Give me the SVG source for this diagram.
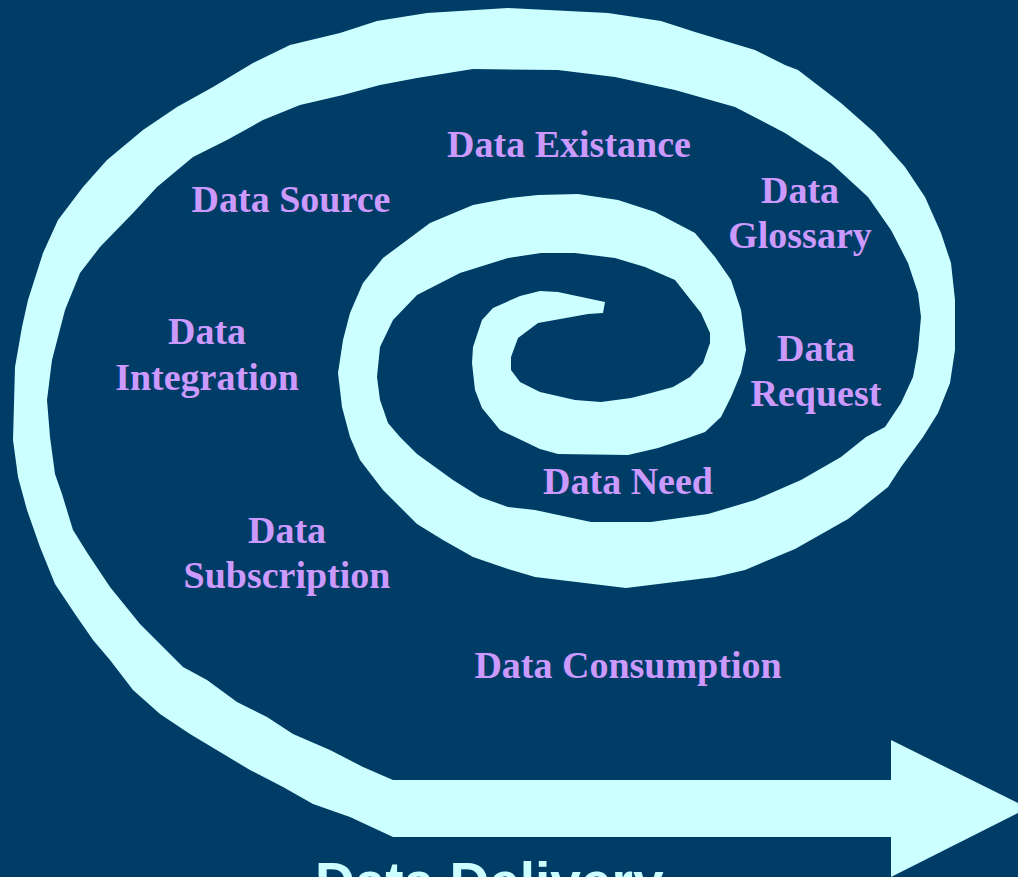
<svg xmlns="http://www.w3.org/2000/svg" width="1018" height="877" viewBox="0 0 1018 877">
  <style>
    .bg { fill: #003D66; }
    .spiral { fill: #CCFFFF; stroke: none; }
    .lbl { font-family: "Liberation Serif", "Times New Roman", serif; font-weight: bold; font-size: 38px; fill: #CC99FF; text-anchor: middle; }
    .title { font-family: "Liberation Sans", Arial, sans-serif; font-weight: bold; font-size: 55px; fill: #CCFFFF; }
  </style>
  <rect class="bg" x="0" y="0" width="1018" height="877"/>
  <g id="spiral">
    <polygon class="spiral" points="
      605,302 558,292 540,291 520,296 493,308 482,320 473,347 472,363 475,390 482,408 500,430 517,438 540,449 558,454 628,455 658,448 688,438 705,432 721,417 731,397 741,373 746,350 741,310 731,280 715,257 695,233 655,212 618,200 578,194 538,195 510,198 473,205 430,223 383,258 363,283 350,313 343,340 338,373 342,407 350,437 360,460 383,490 417,524 443,540 473,557 508,569 535,577 626,588 715,577 745,570 795,549 848,519 888,487 901,467 923,437 938,413 950,383 955,350 955,300 951,263 941,233 925,197 905,167 875,133 841,103 798,70 785,65 755,50 695,32 661,21 608,13 508,8 427,13 377,21 340,33 290,45 253,63 213,87 177,107 143,130 107,160 83,187 58,220 43,253 28,300 22,327 15,367 13,440 18,477 27,510 40,547 55,584 75,614 93,640 110,660 133,690 160,714 190,734 220,752 250,770 283,787 313,804 350,817 393,837
      891,837 891,877 1028,808 891,740 891,780 393,780
      363,767 330,750 293,734 267,717 237,702 207,680 183,667 163,647 140,624 110,587 88,554 73,530 62,494 55,474 50,437 47,400 52,360 65,310 80,273 100,247 133,213 157,187 193,157 227,140 263,120 300,105 343,95 380,85 417,78 473,69 558,70 615,77 675,90 735,107 785,133 831,163 868,197 891,230 908,263 918,293 921,317 918,350 913,377 901,403 885,427 866,437 841,457 801,480 755,500 708,514 651,522 591,522 535,510 508,507 480,497 453,480 417,454 400,437 388,423 380,400 377,377 380,347 393,320 417,295 460,273 508,258 541,253 575,253 615,258 645,267 675,280 701,313 710,333 710,343 703,363 690,377 673,387 651,393 631,398 601,402 575,400 540,392 520,382 511,370 511,357 518,338 538,323 588,314 603,313"/>
  </g>
  <g id="label-existance"><text class="lbl" x="569" y="157">Data Existance</text></g>
  <g id="label-source"><text class="lbl" x="291" y="212">Data Source</text></g>
  <g id="label-glossary"><text class="lbl" x="800" y="203">Data</text><text class="lbl" x="800" y="248">Glossary</text></g>
  <g id="label-integration"><text class="lbl" x="207" y="344">Data</text><text class="lbl" x="207" y="390">Integration</text></g>
  <g id="label-request"><text class="lbl" x="816" y="361">Data</text><text class="lbl" x="816" y="406">Request</text></g>
  <g id="label-need"><text class="lbl" x="628" y="494">Data Need</text></g>
  <g id="label-subscription"><text class="lbl" x="287" y="543">Data</text><text class="lbl" x="287" y="588">Subscription</text></g>
  <g id="label-consumption"><text class="lbl" x="628" y="678">Data Consumption</text></g>
  <g id="label-delivery"><text class="title" x="315" y="901">Data Delivery</text></g>
</svg>
